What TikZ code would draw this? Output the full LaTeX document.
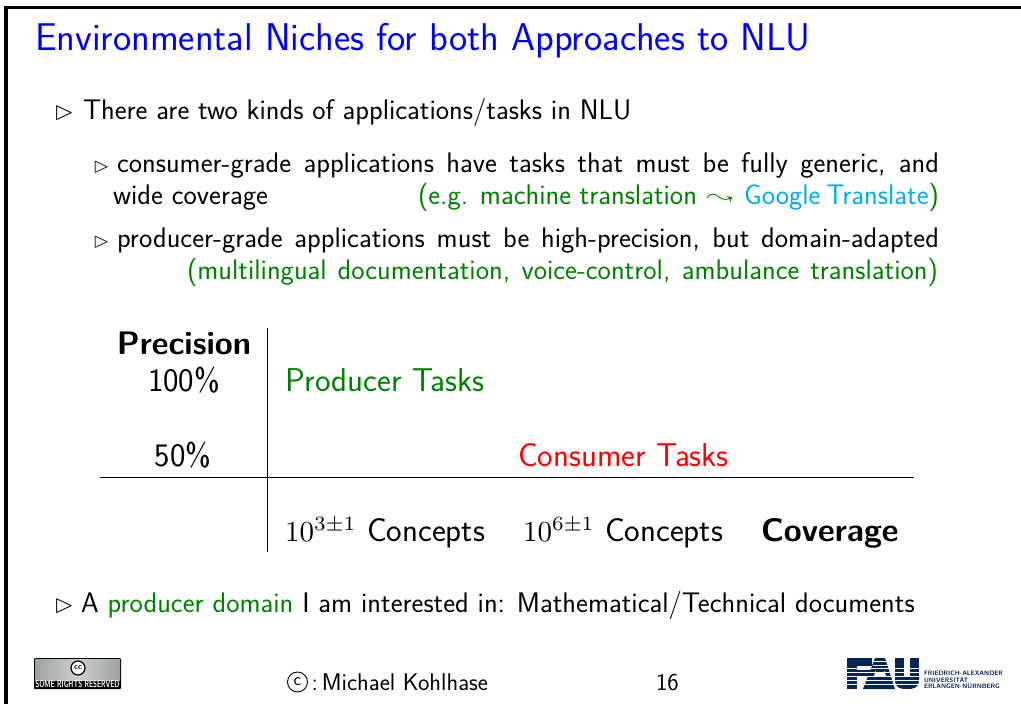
\documentclass[tikz,border=0pt]{standalone}
\usepackage{amssymb}
\usepackage{graphicx}
\usepackage{xcolor}
\usetikzlibrary{arrows.meta}
\definecolor{tgreen}{rgb}{0,0.5,0}
\definecolor{tcyan}{rgb}{0,0.68,0.94}
\definecolor{faublue}{rgb}{0.02,0.15,0.33}
\definecolor{ccgrey}{rgb}{0.62,0.64,0.62}
\definecolor{cclight}{rgb}{0.80,0.81,0.80}
\renewcommand{\familydefault}{\sfdefault}
\newcommand{\sz}[1]{\fontsize{#1}{#1}\selectfont}
\newcommand{\pow}[1]{\scalebox{2.9}{\sz{10}$10^{#1\pm1}$}}
\tikzset{
 x=1pt,y=-1pt,
 txt/.style={anchor=base west,inner sep=0pt,outer sep=0pt,font=\sffamily\sz{28.3}},
 mrk/.style={anchor=base west,inner sep=0pt,outer sep=0pt},
 big/.style={anchor=base west,inner sep=0pt,outer sep=0pt,font=\sffamily\sz{33}},
 ctr/.style={anchor=base,inner sep=0pt,outer sep=0pt,font=\sffamily\sz{32.8}},
 bigb/.style={inner sep=0pt,outer sep=0pt,font=\sffamily\bfseries\sz{32.6}},
 foot/.style={anchor=base west,inner sep=0pt,outer sep=0pt,font=\sffamily\sz{24.2}},
 title/.style={anchor=base west,inner sep=0pt,outer sep=0pt,font=\sffamily\sz{38.7},text=blue},
 rule/.style={line width=1pt,black},
 frameline/.style={line width=3.5pt,black},
 squiggle/.style={line width=0.9pt,tgreen,-{To[length=4pt,width=7pt]}},
 logotext/.style={anchor=base west,inner sep=0pt,outer sep=0pt,font=\sffamily\bfseries\sz{6.4},text=faublue},
}
\begin{document}
\begin{tikzpicture}
\useasboundingbox (0,0) rectangle (1021,704);
\fill[white] (0,0) rectangle (1021,704);
\coordinate (fa) at (6,704); \coordinate (fb) at (6,7.5); \coordinate (fc) at (1021,7.5);
\draw[frameline] (fa) -- (fb) -- (fc);
\node[title] (t) at (35,50) {Environmental Niches for both Approaches to NLU};
\node[mrk] (b1m) at (54,119) {\scalebox{2.55}{\sz{10}$\vartriangleright$}};
\node[txt] (b1) at (83,119) {There are two kinds of applications/tasks in NLU};
\node[mrk] (b2m) at (93,172) {\scalebox{2.1}{\sz{10}$\vartriangleright$}};
\node[txt] (b2) at (117,172) {\hbox to 822pt{consumer-grade applications have tasks that must be fully generic, and}};
\node[txt] (b2b) at (113,204) {wide coverage};
\node[txt,text=tgreen] (b2c) at (418,204) {\hbox to 279pt{(e.g. machine translation}};
\coordinate (sqa) at (707,198); \coordinate (sqb) at (732,197.5);
\draw[squiggle] (sqa) .. controls (711,192) and (715,194) .. (719,197) .. controls (723,200) and (727,200) .. (sqb);
\node[txt] (b2d) at (744,204) {\hbox to 194pt{\textcolor{tcyan}{Google Translate}\textcolor{tgreen}{)}}};
\node[mrk] (b3m) at (93,247) {\scalebox{2.1}{\sz{10}$\vartriangleright$}};
\node[txt] (b3) at (117,247) {\hbox to 822pt{producer-grade applications must be high-precision, but domain-adapted}};
\node[txt,text=tgreen] (b3c) at (187,279) {\hbox to 751pt{(multilingual documentation, voice-control, ambulance translation)}};
\node[bigb,anchor=base] (prec) at (184,354) {Precision};
\node[ctr] (p100) at (184,391) {100\%};
\node[ctr] (p50) at (183,466) {50\%};
\node[big,text=tgreen] (prod) at (285,391) {Producer Tasks};
\node[big,text=red] (cons) at (518,466) {Consumer Tasks};
\node[big] (c3) at (285,541) {\pow{3} Concepts};
\node[big] (c6) at (523,541) {\pow{6} Concepts};
\node[bigb,anchor=base west] (cov) at (761,541) {Coverage};
\coordinate (va) at (267,328); \coordinate (vb) at (267,552);
\coordinate (ha) at (100,477.5); \coordinate (hb) at (914,477.5);
\draw[rule] (va) -- (vb);
\draw[rule] (ha) -- (hb);
\node[mrk] (b4m) at (54,612) {\scalebox{2.55}{\sz{10}$\vartriangleright$}};
\node[txt] (b4) at (81,612) {A \textcolor{tgreen}{producer domain} I am interested in: Mathematical/Technical documents};
\node[circle,draw=black,line width=0.9pt,inner sep=0pt,minimum size=20pt,font=\sffamily\sz{18}] (circc) at (297.5,682) {c};
\node[foot] (auth) at (311.5,690) {:\,Michael Kohlhase};
\node[foot] (pg) at (656,690) {16};
% cc badge
\fill[black,rounded corners=1pt] (34,658) rectangle (121,689);
\shade[left color=ccgrey,right color=ccgrey,middle color=cclight] (35,659) rectangle (120,680);
\draw[black,fill=white,line width=1.2pt] (78,668) circle (7);
\node[anchor=center,inner sep=0pt,font=\sffamily\bfseries\sz{8}] (cc) at (78,668) {cc};
\node[anchor=center,inner sep=0pt,text=white,font=\sffamily\bfseries\sz{9}] (srr) at (77.5,684.5) {\resizebox{84pt}{7pt}{SOME RIGHTS RESERVED}};
% FAU logo: F
\fill[faublue] (847,658) rectangle (872,666);
\fill[faublue] (847,658) rectangle (857,689);
\fill[faublue] (847,670) rectangle (870,677);
% A
\fill[faublue] (863,689) -- (875,658) -- (885,658) -- (895,689) -- cycle;
\fill[white] (874,676) -- (886,676) -- (884,670) -- (876,670) -- cycle;
\fill[faublue] (876,670) rectangle (884,673);
% U
\fill[faublue] (895,658) rectangle (904,680);
\fill[faublue] (910,658) rectangle (919,680);
\fill[faublue] (895,676) -- (919,676) -- (919,680) .. controls (919,689) and (912,689) .. (907,689) .. controls (902,689) and (895,689) .. (895,680) -- cycle;
\foreach \yy in {668,672,676,680,684}{\fill[white] (847,\yy) rectangle (919,\yy+1);}
\foreach \yy in {661,664.5}{\fill[white] (873,\yy) rectangle (893,\yy+1);}
\node[logotext] (f1) at (924,675.5) {FRIEDRICH-ALEXANDER};
\node[logotext] (f2) at (924,682) {UNIVERSITÄT};
\node[logotext] (f3) at (924,688.5) {ERLANGEN-NÜRNBERG};
\end{tikzpicture}
\end{document}
